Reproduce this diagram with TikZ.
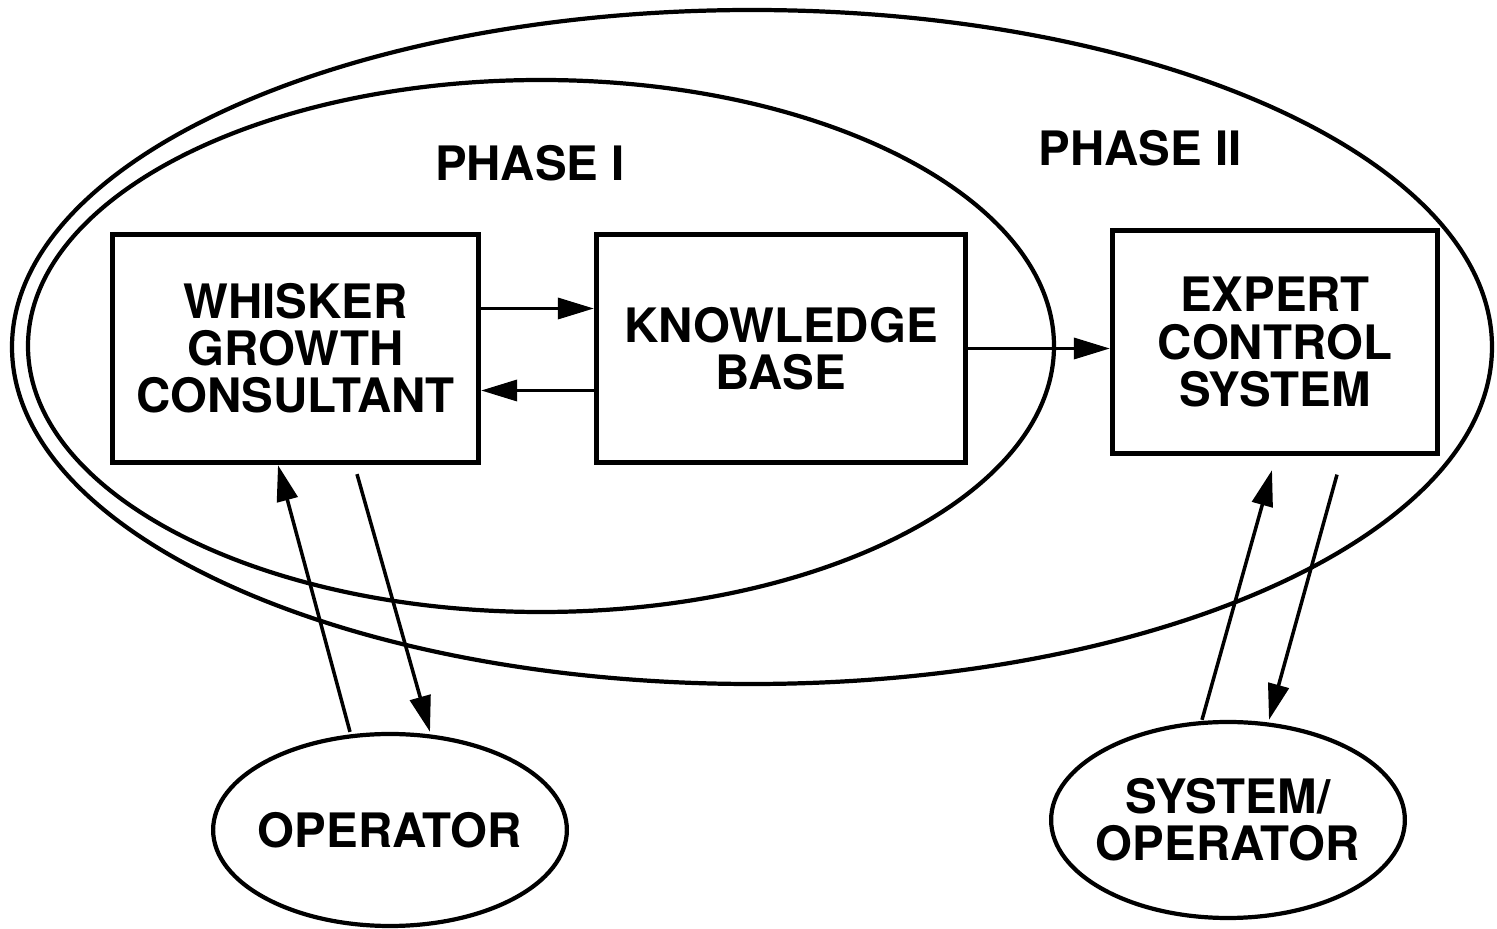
\documentclass[tikz,border=0pt]{standalone}
\usepackage{fontspec}
\setmainfont{TeX Gyre Heros}
\usetikzlibrary{arrows.meta,shapes.geometric}

\tikzset{
  lbl/.style={font=\bfseries\fontsize{13.5}{13.4}\selectfont, align=center},
  block/.style={lbl, draw, line width=1.5pt, minimum height=2.28cm, inner sep=0pt},
  agent/.style={lbl, draw, ellipse, line width=1.2pt, minimum width=3.52cm, minimum height=1.92cm, inner xsep=-0.07cm, inner ysep=0pt},
  region/.style={line width=1.2pt},
  flow/.style={line width=1pt, -{Triangle[length=0.36cm,width=0.21cm]}}
}

\begin{document}
\begin{tikzpicture}
            % Fix the page size
            \useasboundingbox (0,0) rectangle (14.97,9.29);

            % Draw the two phase regions (Phase II encloses Phase I)
            \draw[region] (7.52,5.82) ellipse [x radius=7.40, y radius=3.37];
            \draw[region] (5.41,5.83) ellipse [x radius=5.13, y radius=2.66];
            \node[lbl] (ph1) at (5.30,7.66) {PHASE I};
            \node[lbl] (ph2) at (11.40,7.81) {PHASE II};

            % Draw the three system blocks
            \node[block, minimum width=3.66cm] (wgc) at (2.955,5.805) {WHISKER\\GROWTH\\CONSULTANT};
            \node[block, minimum width=3.69cm] (kb) at (7.81,5.805) {KNOWLEDGE\\BASE};
            \node[block, minimum width=3.25cm, minimum height=2.23cm] (ecs) at (12.75,5.87) {EXPERT\\CONTROL\\SYSTEM};

            % Draw the operators outside
            \node[agent] (op) at (3.90,0.99) {OPERATOR};
            \node[agent, minimum height=1.96cm] (sysop) at (12.28,1.09) {SYSTEM/\\OPERATOR};

            % Exchange between consultant and knowledge base
            \draw[flow] ([yshift=0.40cm]wgc.east) -- ([yshift=0.40cm]wgc.east -| kb.west);
            \draw[flow] ([yshift=-0.42cm]kb.west) -- ([yshift=-0.42cm]kb.west -| wgc.east);
            % Knowledge base feeds the expert control system
            \draw[flow] (kb.east) -- (kb.east -| ecs.west);

            % Operator links for Phase I
            \draw[flow] ([xshift=-0.40cm]op.north) -- ([xshift=-0.175cm]wgc.south);
            \draw[flow] ([xshift=0.615cm,yshift=-0.09cm]wgc.south) -- ([xshift=0.40cm]op.north);

            % System/operator links for Phase II
            \draw[flow] ([xshift=-0.26cm]sysop.north) -- ([xshift=-0.03cm,yshift=-0.14cm]ecs.south);
            \draw[flow] ([xshift=0.62cm,yshift=-0.185cm]ecs.south) -- ([xshift=0.41cm]sysop.north);
\end{tikzpicture}
\end{document}
